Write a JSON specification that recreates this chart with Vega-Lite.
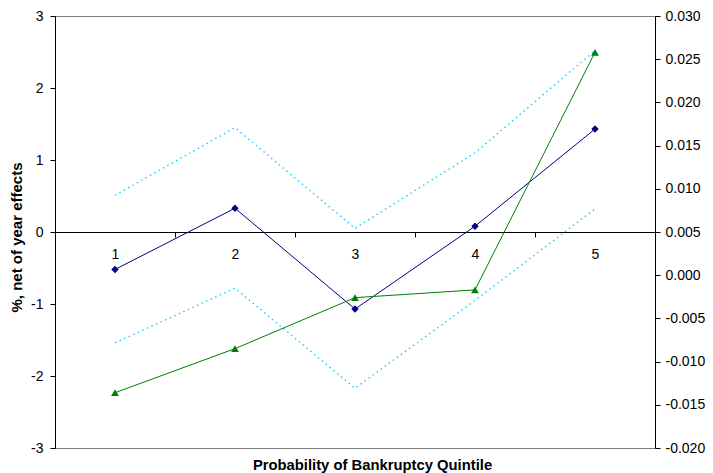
{
  "$schema": "https://vega.github.io/schema/vega-lite/v6.json",
  "width": 600,
  "height": 432,
  "autosize": {"type": "none"},
  "padding": {"left": 55, "top": 16, "right": 58, "bottom": 25},
  "background": "white",
  "config": {
    "font": "Liberation Sans",
    "view": {"stroke": "#7f7f7f", "strokeWidth": 1},
    "axis": {
      "grid": false,
      "domainColor": "black",
      "domainWidth": 1,
      "tickColor": "black",
      "tickSize": 5,
      "labelColor": "black",
      "labelFont": "Liberation Sans",
      "labelFontSize": 14,
      "titleFont": "Liberation Sans",
      "titleFontWeight": "bold",
      "titleColor": "black"
    },
    "axisLeft": {
      "labelPadding": 7,
      "titleFontSize": 15,
      "titleAnchor": "start",
      "titleAlign": "center",
      "titleBaseline": "middle",
      "titleAngle": 270,
      "titleX": -39,
      "titleY": 221
    },
    "axisRight": {"labelPadding": 5}
  },
  "data": {
    "values": [
      {"quintile": "1", "pct_effect": -0.52, "upper_95": 0.51, "lower_95": -1.54, "coef": -0.0136},
      {"quintile": "2", "pct_effect": 0.33, "upper_95": 1.45, "lower_95": -0.78, "coef": -0.0085},
      {"quintile": "3", "pct_effect": -1.07, "upper_95": 0.05, "lower_95": -2.17, "coef": -0.0026},
      {"quintile": "4", "pct_effect": 0.08, "upper_95": 1.1, "lower_95": -0.95, "coef": -0.0017},
      {"quintile": "5", "pct_effect": 1.43, "upper_95": 2.52, "lower_95": 0.32, "coef": 0.0258}
    ]
  },
  "encoding": {
    "x": {
      "field": "quintile",
      "type": "ordinal",
      "scale": {"type": "band", "paddingInner": 0, "paddingOuter": 0},
      "axis": {
        "orient": "bottom",
        "offset": -216,
        "tickBand": "extent",
        "labelAngle": 0,
        "labelPadding": 10,
        "title": "Probability of Bankruptcy Quintile",
        "titleFontSize": 14.8,
        "titleBaseline": "alphabetic",
        "titleAnchor": "start",
        "titleAlign": "center",
        "titleX": 317,
        "titleY": 237
      }
    }
  },
  "layer": [
    {
      "layer": [
        {
          "mark": {"type": "line", "color": "#00CCFF", "strokeWidth": 1.3, "strokeDash": [1.5, 3.5]},
          "encoding": {
            "y": {
              "field": "upper_95",
              "type": "quantitative",
              "scale": {"domain": [-3, 3], "nice": false, "zero": false},
              "axis": {"orient": "left", "values": [-3, -2, -1, 0, 1, 2, 3], "labelExpr": "replace(datum.label, '\u2212', '-')", "title": "%, net of year effects"}
            }
          }
        },
        {
          "mark": {"type": "line", "color": "#00CCFF", "strokeWidth": 1.3, "strokeDash": [1.5, 3.5]},
          "encoding": {
            "y": {
              "field": "lower_95",
              "type": "quantitative",
              "scale": {"domain": [-3, 3], "nice": false, "zero": false},
              "axis": {"orient": "left", "values": [-3, -2, -1, 0, 1, 2, 3], "labelExpr": "replace(datum.label, '\u2212', '-')", "title": "%, net of year effects"}
            }
          }
        },
        {
          "mark": {"type": "line", "color": "#000080", "strokeWidth": 1},
          "encoding": {
            "y": {
              "field": "pct_effect",
              "type": "quantitative",
              "scale": {"domain": [-3, 3], "nice": false, "zero": false},
              "axis": {"orient": "left", "values": [-3, -2, -1, 0, 1, 2, 3], "labelExpr": "replace(datum.label, '\u2212', '-')", "title": "%, net of year effects"}
            }
          }
        },
        {
          "mark": {"type": "point", "shape": "diamond", "filled": true, "color": "#000080", "size": 55, "opacity": 1},
          "encoding": {
            "y": {
              "field": "pct_effect",
              "type": "quantitative",
              "scale": {"domain": [-3, 3], "nice": false, "zero": false},
              "axis": {"orient": "left", "values": [-3, -2, -1, 0, 1, 2, 3], "labelExpr": "replace(datum.label, '\u2212', '-')", "title": "%, net of year effects"}
            }
          }
        }
      ]
    },
    {
      "layer": [
        {
          "mark": {"type": "line", "color": "#008000", "strokeWidth": 1},
          "encoding": {
            "y": {
              "field": "coef",
              "type": "quantitative",
              "scale": {"domain": [-0.02, 0.03], "nice": false, "zero": false},
              "axis": {"orient": "right", "values": [-0.02, -0.015, -0.01, -0.005, 0, 0.005, 0.01, 0.015, 0.02, 0.025, 0.03], "format": ".3f", "labelExpr": "replace(datum.label, '\u2212', '-')", "title": null}
            }
          }
        },
        {
          "mark": {"type": "point", "shape": "triangle-up", "filled": true, "color": "#008000", "size": 60, "opacity": 1},
          "encoding": {
            "y": {
              "field": "coef",
              "type": "quantitative",
              "scale": {"domain": [-0.02, 0.03], "nice": false, "zero": false},
              "axis": {"orient": "right", "values": [-0.02, -0.015, -0.01, -0.005, 0, 0.005, 0.01, 0.015, 0.02, 0.025, 0.03], "format": ".3f", "labelExpr": "replace(datum.label, '\u2212', '-')", "title": null}
            }
          }
        }
      ]
    }
  ],
  "resolve": {"scale": {"y": "independent"}, "axis": {"y": "independent"}}
}
